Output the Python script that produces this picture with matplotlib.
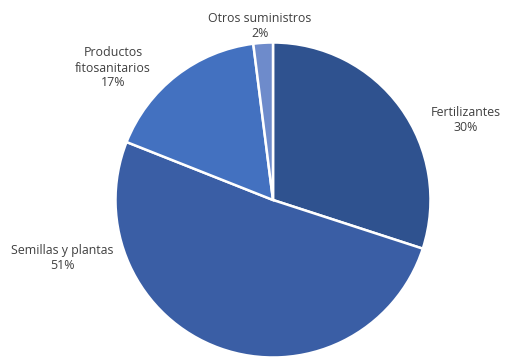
import matplotlib.pyplot as plt

plt.rcParams['font.family'] = ['Open Sans', 'DejaVu Sans']

categorias = ['Fertilizantes', 'Semillas y plantas', 'Productos\nfitosanitarios', 'Otros suministros']
porcentajes = [30, 51, 17, 2]
colores = ['#2F528F', '#3A5EA5', '#4371C0', '#6E8BCB']

# posiciones de las etiquetas (px, con y hacia arriba)
pos_etiquetas = [(466, 240), (62, 102), (113, 292), (260, 334)]

fig = plt.figure(figsize=(5.06, 3.6), dpi=100)
ax = fig.add_axes([0, 0, 1, 1])
ax.pie(porcentajes, colors=colores, startangle=90, counterclock=False,
       center=(273, 160), radius=157.5,
       wedgeprops=dict(edgecolor='white', linewidth=1.8))
ax.set_xlim(0, 506)
ax.set_ylim(0, 360)
ax.set_aspect('equal')
ax.axis('off')

for nombre, p, (x, y) in zip(categorias, porcentajes, pos_etiquetas):
    ax.text(x, y, f'{nombre}\n{p}%', ha='center', va='center',
            fontsize=8.9, color='#404040', linespacing=1.2)

fig.savefig('out.png', dpi=100)
